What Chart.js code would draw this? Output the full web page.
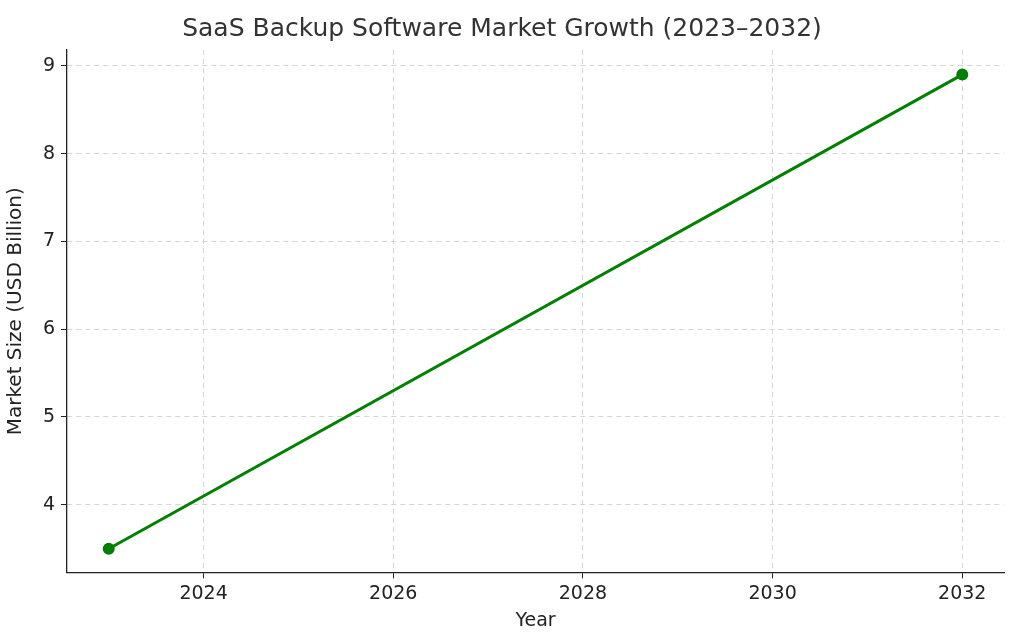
<!DOCTYPE html>
<html><head><meta charset="utf-8">
<script src="https://cdn.jsdelivr.net/npm/chart.js@4"></script>
<style>html,body{margin:0;padding:0;background:#fff}#w{width:1024px;height:640px}</style>
</head><body><div id="w"><canvas id="c" width="1024" height="640"></canvas></div>
<script>
const years = [2023, 2032];
const marketSize = [3.5, 8.9];
const xTicks = [2024, 2026, 2028, 2030, 2032];
const yTicks = [4, 5, 6, 7, 8, 9];
const font = "'DejaVu Sans', sans-serif";
new Chart(document.getElementById('c'), {
  type: 'line',
  data: { datasets: [{
    data: years.map((y, i) => ({x: y, y: marketSize[i]})),
    borderColor: '#008000', backgroundColor: '#008000',
    borderWidth: 3, pointRadius: 4.5, pointHoverRadius: 4.5, tension: 0
  }]},
  options: {
    responsive: false, animation: false,
    layout: { padding: { left: 0, right: 20, top: 0, bottom: 4 } },
    plugins: {
      legend: { display: false }, tooltip: { enabled: false },
      title: { display: true, text: 'SaaS Backup Software Market Growth (2023–2032)',
        color: '#333', font: { family: font, size: 25, weight: 'normal' }, padding: { top: 14, bottom: 6 } }
    },
    scales: {
      x: { type: 'linear', min: 2022.56, max: 2032.44,
        afterBuildTicks: s => { s.ticks = xTicks.map(v => ({value: v})); },
        ticks: { color: '#222', font: { family: font, size: 19 }, padding: 4, callback: v => String(v) },
        grid: { color: '#d4d4d4', tickLength: 6, tickColor: '#222' },
        border: { color: '#222', width: 1.3, dash: [5, 4] },
        title: { display: true, text: 'Year', color: '#222', font: { family: font, size: 19 }, padding: { top: 0 } }
      },
      y: { min: 3.23, max: 9.18,
        afterBuildTicks: s => { s.ticks = yTicks.map(v => ({value: v})); },
        afterFit: s => { s.width = 67; },
        ticks: { color: '#222', font: { family: font, size: 19 }, padding: 6 },
        grid: { color: '#d4d4d4', tickLength: 6, tickColor: '#222' },
        border: { color: '#222', width: 1.3, dash: [5, 4] },
        title: { display: true, text: 'Market Size (USD Billion)', color: '#222', font: { family: font, size: 20 }, padding: { bottom: 2 } }
      }
    }
  }
});
</script></body></html>
